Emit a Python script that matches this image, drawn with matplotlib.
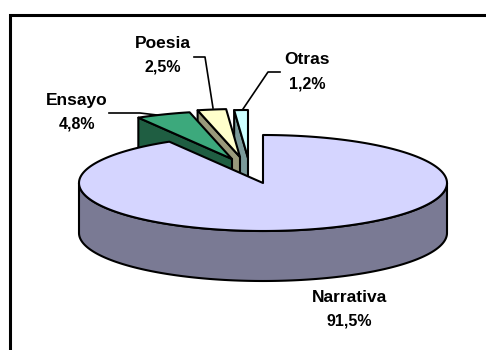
import numpy as np
import matplotlib
matplotlib.use("Agg")
import matplotlib.pyplot as plt
from matplotlib.patches import Polygon

labels = ["Narrativa", "Ensayo", "Poesia", "Otras"]
values = [91.5, 4.8, 2.5, 1.2]
value_labels = ["91,5%", "4,8%", "2,5%", "1,2%"]

top_colors = ["#D5D5FF", "#3CA97C", "#FFFFCC", "#CCFFFF"]
side_colors = ["#7A7A94", "#1F5E42", "#99997A", "#7A9999"]

W, H = 486, 350
RX, RY, DEPTH = 184, 48, 50
CENTER = (263, 183)
APEX = {"Narrativa": CENTER, "Ensayo": (232, 159), "Poesia": (240, 157), "Otras": (248, 158)}

fig = plt.figure(figsize=(W / 100, H / 100), dpi=100)
ax = fig.add_axes([0, 0, 1, 1])
ax.set_xlim(0, W)
ax.set_ylim(H, 0)
ax.axis("off")

# Frame
ax.plot([9.5, 9.5, 486], [350, 15, 15], color="black", lw=2.2, solid_joinstyle="miter",
        solid_capstyle="butt", zorder=1)


def arc(name, a0, a1):
    # a measured clockwise from the top, in degrees
    t = np.radians(np.linspace(a0, a1, max(int(abs(a1 - a0)), 2) + 1))
    cx, cy = APEX[name]
    return cx + RX * np.sin(t), cy - RY * np.cos(t)


# Sweep clockwise from 12 o'clock: the values run in order
ends = np.cumsum(values) * 3.6
starts = ends - np.array(values) * 3.6
z = 2
edge = dict(edgecolor="black", lw=1.5, joinstyle="round")

# back to front: Otras, Poesia, Ensayo, then Narrativa
for i in [3, 2, 1, 0]:
    name = labels[i]
    cx, cy = APEX[name]
    a0, a1 = starts[i], ends[i]
    x, y = arc(name, a0, a1)
    if name != "Narrativa":
        # cut face seen from the left of the exploded slice
        fx = [x[0], cx, cx, x[0]]
        fy = [y[0], cy, cy + DEPTH, y[0] + DEPTH]
        ax.add_patch(Polygon(np.c_[fx, fy], closed=True, facecolor=side_colors[i], zorder=z, **edge))
    else:
        # front wall of the big slice
        xs, ys = arc(name, 90, 270)
        ax.add_patch(Polygon(np.r_[np.c_[xs, ys], np.c_[xs, ys + DEPTH][::-1]], closed=True,
                             facecolor=side_colors[i], zorder=z, **edge))
    z += 1
    ax.add_patch(Polygon(np.r_[[[cx, cy]], np.c_[x, y]], closed=True,
                         facecolor=top_colors[i], zorder=z, **edge))
    z += 1

# Labels
label_pos = {"Narrativa": (349, 297), "Ensayo": (77, 100), "Poesia": (163, 43), "Otras": (307, 60)}
for name, val in zip(labels, value_labels):
    lx, ly = label_pos[name]
    ax.text(lx, ly, name, ha="center", va="center", fontsize=12.5, fontweight="bold",
            family="Liberation Sans", color="black", zorder=20)
    ax.text(lx, ly + 24, val, ha="center", va="center", fontsize=11.5, fontweight="bold",
            family="Liberation Sans", color="black", zorder=20)

# Leader lines
lead = {"Ensayo": ([109, 140, 157], [113, 113, 115]),
        "Poesia": ([194, 205, 213], [57, 57, 108]),
        "Otras": ([280, 268, 243], [72, 72, 109])}
for lx, ly in lead.values():
    ax.plot(lx, ly, color="black", lw=1.2, zorder=15)

fig.savefig("out.png", dpi=100, facecolor="white")
